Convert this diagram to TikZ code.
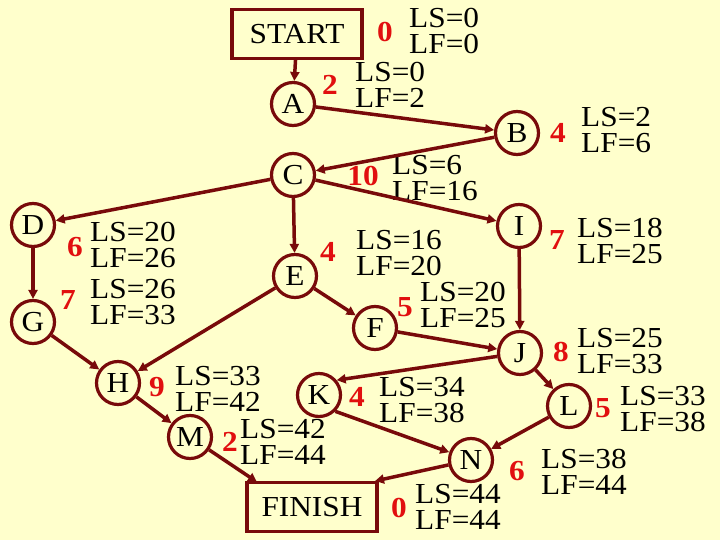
\documentclass[tikz,border=0pt]{standalone}
\usepackage{fontspec}
\setmainfont{Liberation Serif}[FakeStretch=1.08]
\usetikzlibrary{arrows.meta}
\definecolor{maroon}{RGB}{120,10,10}
\definecolor{paper}{RGB}{255,255,204}
\definecolor{durred}{RGB}{225,15,15}

\begin{document}
\begin{tikzpicture}[
  x=1pt, y=-1pt,
  every node/.style={font=\fontsize{29}{26}\selectfont, inner sep=0pt},
  event/.style={circle, draw=maroon, line width=3.2pt, minimum size=43pt, fill=paper},
  terminal/.style={rectangle, draw=maroon, line width=3.2pt, minimum width=130pt, minimum height=49pt},
  dur/.style={text=durred, font=\fontsize{29}{26}\selectfont\bfseries},
  times/.style={anchor=west, align=left},
  act/.style={draw=maroon, line width=3.5pt, -{Triangle[length=9pt,width=9pt]}}
]
  \fill[paper] (0,0) rectangle (720,540);
  \useasboundingbox (0,0) rectangle (720,540);

  % events
  \node[terminal] (start) at (297,34) {START};
  \node[event] (A) at (293,104) {A};
  \node[event] (B) at (517,133) {B};
  \node[event] (C) at (293,175) {C};
  \node[event] (D) at (33,225) {D};
  \node[event] (E) at (295,276) {E};
  \node[event] (F) at (375,328) {F};
  \node[event] (G) at (33,322) {G};
  \node[event] (H) at (118,383) {H};
  \node[event] (I) at (519,226) {I};
  \node[event] (J) at (520,353) {J};
  \node[event] (K) at (319,395) {K};
  \node[event] (L) at (569,406) {L};
  \node[event] (M) at (190,437) {M};
  \node[event] (N) at (471,460) {N};
  \node[terminal] (finish) at (312,507) {FINISH};

  % durations and latest times
  \node[dur] (dstart) at (385,32) {0};
  \node[times] (tstart) at (409,31) {LS=0\\LF=0};
  \node[dur] (dA) at (330,85) {2};
  \node[times] (tA) at (355,85) {LS=0\\LF=2};
  \node[dur] (dB) at (558,133) {4};
  \node[times] (tB) at (581,130) {LS=2\\LF=6};
  \node[dur] (dC) at (363,176) {10};
  \node[times] (tC) at (392,178) {LS=6\\LF=16};
  \node[dur] (dD) at (75,247) {6};
  \node[times] (tD) at (90,245) {LS=20\\LF=26};
  \node[dur] (dG) at (68,300) {7};
  \node[times] (tG) at (90,302) {LS=26\\LF=33};
  \node[dur] (dE) at (328,252) {4};
  \node[times] (tE) at (356,253) {LS=16\\LF=20};
  \node[dur] (dF) at (405,307) {5};
  \node[times] (tF) at (420,305) {LS=20\\LF=25};
  \node[dur] (dI) at (557,240) {7};
  \node[times] (tI) at (577,241) {LS=18\\LF=25};
  \node[dur] (dJ) at (561,352) {8};
  \node[times] (tJ) at (577,351) {LS=25\\LF=33};
  \node[dur] (dH) at (157,387) {9};
  \node[times] (tH) at (175,389) {LS=33\\LF=42};
  \node[dur] (dK) at (357,397) {4};
  \node[times] (tK) at (379,400) {LS=34\\LF=38};
  \node[dur] (dL) at (603,408) {5};
  \node[times] (tL) at (620,409) {LS=33\\LF=38};
  \node[dur] (dM) at (230,442) {2};
  \node[times] (tM) at (240,442) {LS=42\\LF=44};
  \node[dur] (dN) at (517,471) {6};
  \node[times] (tN) at (541,472) {LS=38\\LF=44};
  \node[dur] (dfinish) at (399,508) {0};
  \node[times] (tfinish) at (415,507) {LS=44\\LF=44};

  \coordinate (finL) at (257,482);
  \coordinate (finR) at (375,481);

  % activities
  \draw[act] (start) -- (A);
  \draw[act] (A) -- (B);
  \draw[act] (B) -- (C);
  \draw[act] (C) -- (D);
  \draw[act] (C) -- (E);
  \draw[act] (C) -- (I);
  \draw[act] (D) -- (G);
  \draw[act] (G) -- (H);
  \draw[act] (E) -- (H);
  \draw[act] (E) -- (F);
  \draw[act] (F) -- (J);
  \draw[act] (I) -- (J);
  \draw[act] (J) -- (K.40);
  \draw[act] (J) -- (L);
  \draw[act] (K.-45) -- (N);
  \draw[act] (L) -- (N);
  \draw[act] (H) -- (M);
  \draw[act] (M) -- (finL);
  \draw[act] (N) -- (finR);
\end{tikzpicture}
\end{document}
